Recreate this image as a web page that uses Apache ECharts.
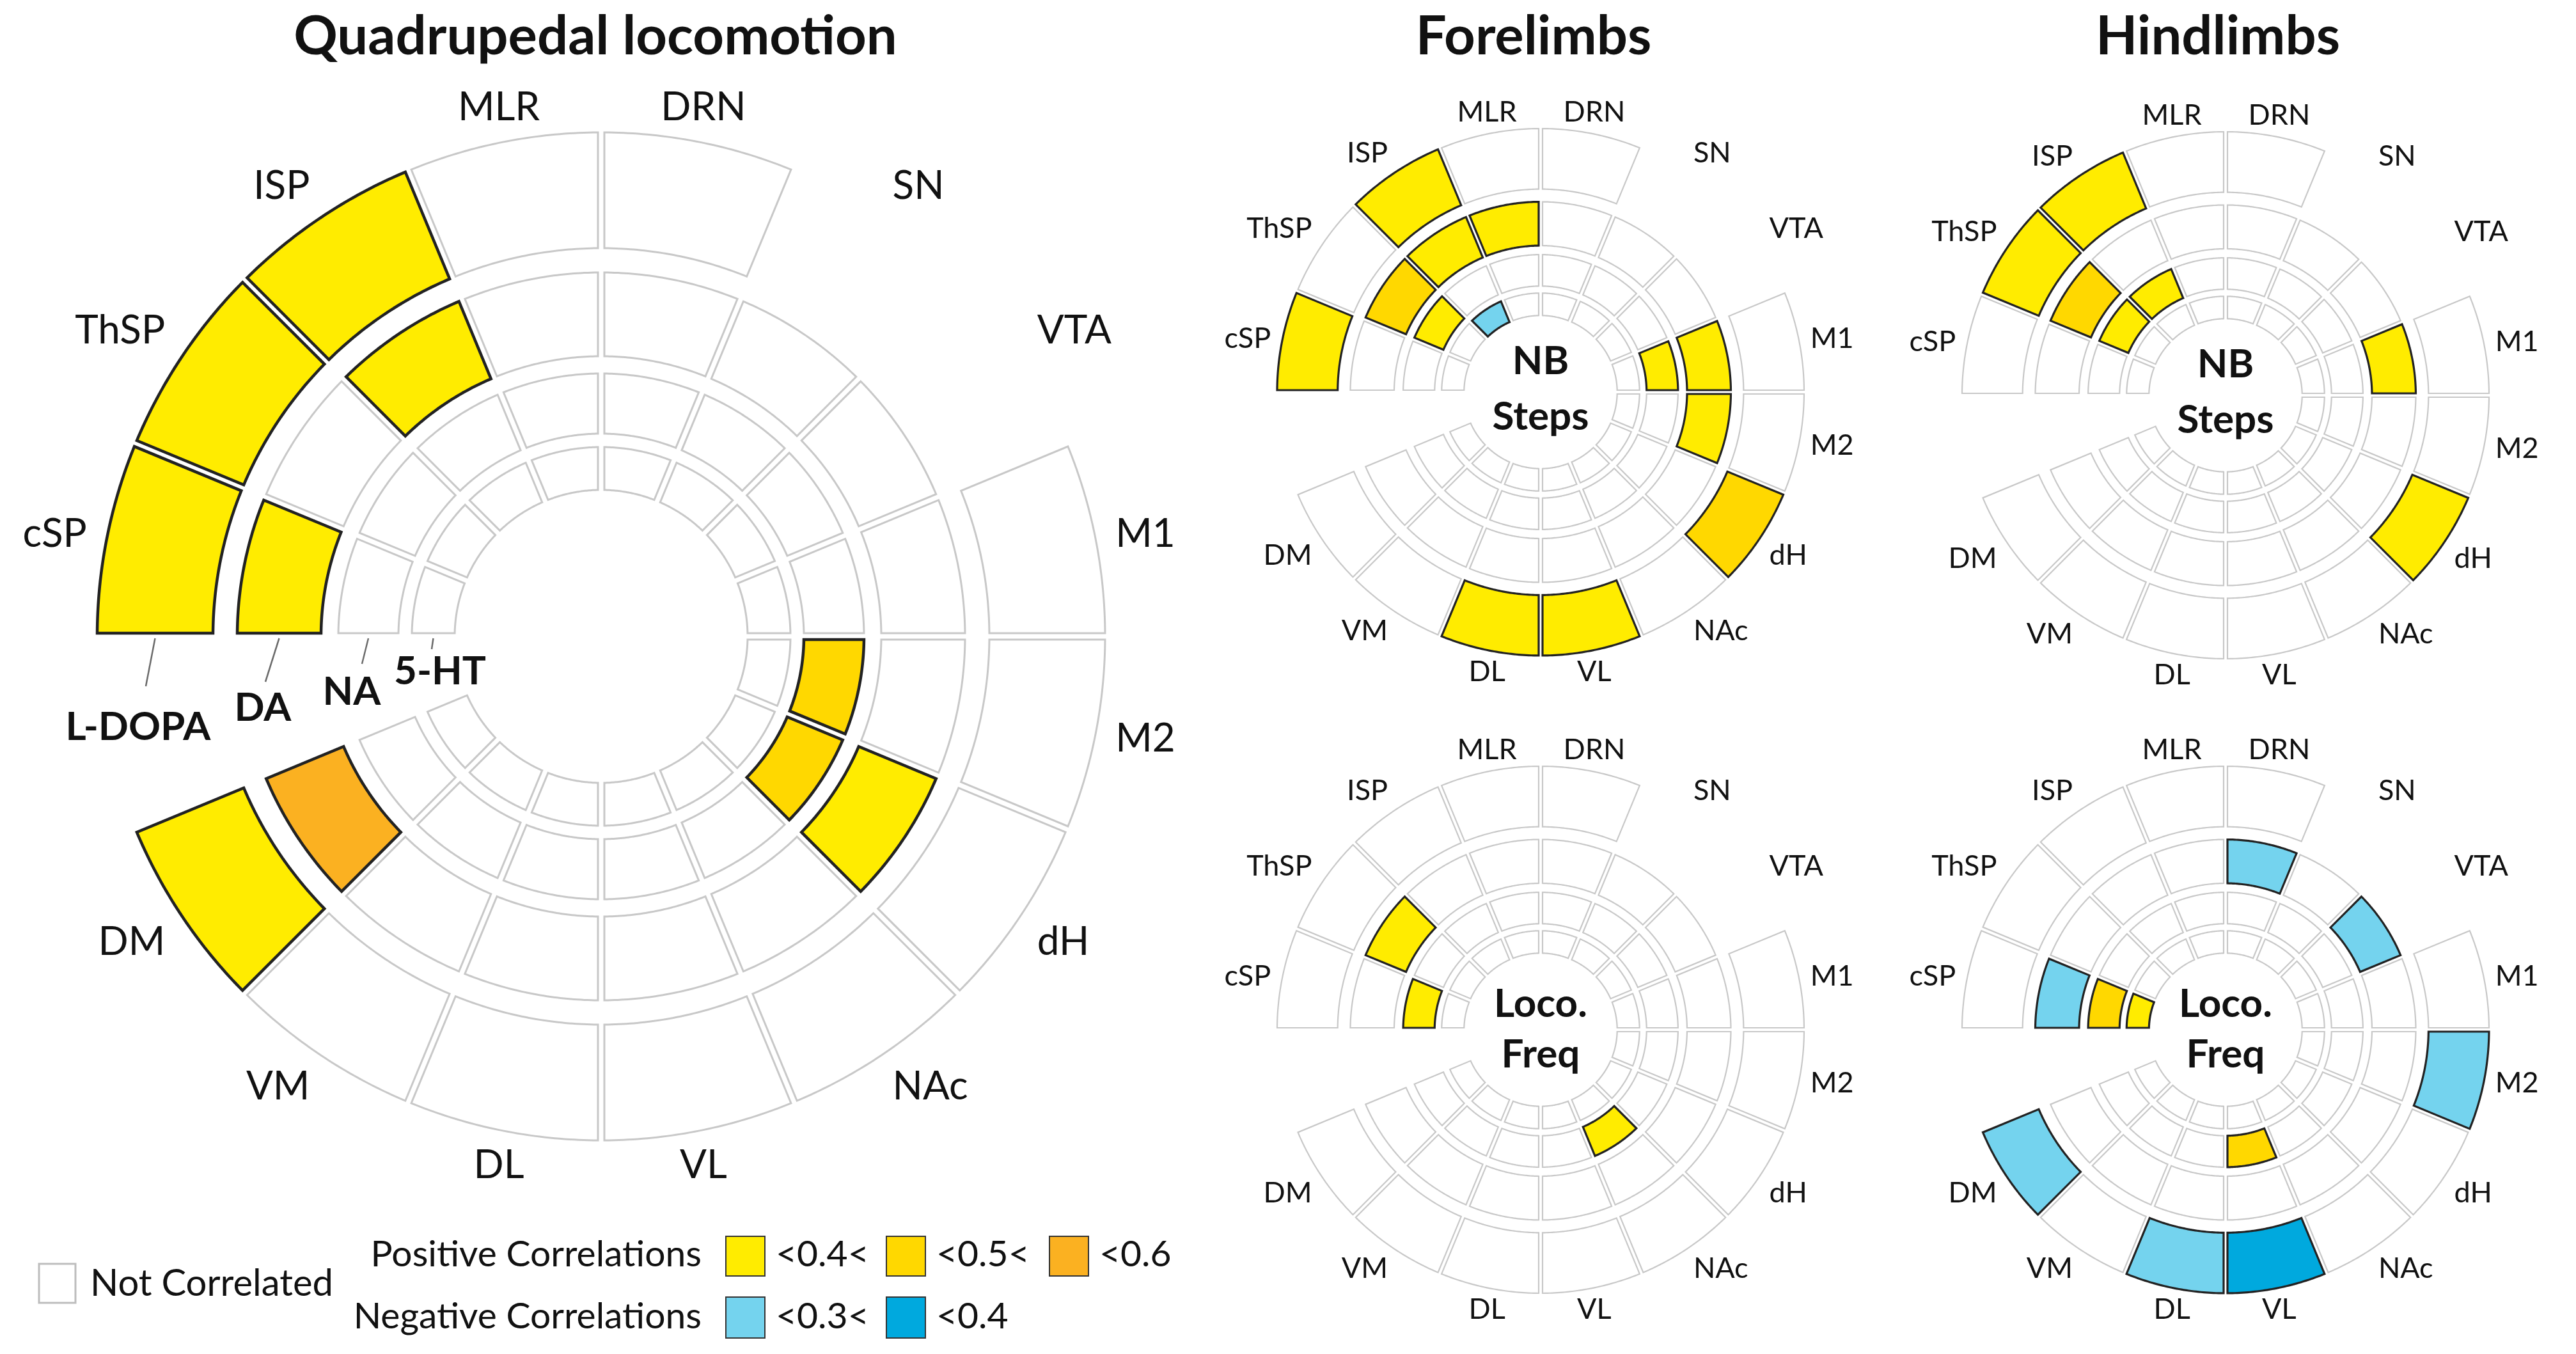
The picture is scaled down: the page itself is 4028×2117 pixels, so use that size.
<!DOCTYPE html>
<html><head><meta charset="utf-8">
<script src="https://cdn.jsdelivr.net/npm/echarts@6/dist/echarts.min.js"></script>
<style>html,body{margin:0;padding:0;background:#fff}#c{width:4028px;height:2117px}</style>
</head><body><div id="c"></div>
<script>
// ---------- DATA ----------
// angular sectors, clockwise from 12 o'clock ('' = empty gap sector)
const regions = ['DRN','SN','VTA','M1','M2','dH','NAc','VL','DL','VM','DM','','cSP','ThSP','ISP','MLR'];
// rings, inside -> outside, with their radial extent (axis units)
const ringNames = ['5-HT','NA','DA','L-DOPA'];
const ringInner = [229, 317, 438, 607];
const ringOuter = [296, 411, 569, 788];
const N = null; // no cell
// correlation class per region: 0 not correlated, 1 <0.4, 2 0.4-0.5, 3 0.5-0.6 (positive), -1 <0.3<, -2 <0.4 (negative)
const quadHT = [0,0,0,0,0,0,0,0,0,0,0,N,0,0,0,0];
const quadNA = [0,0,0,0,2,2,0,0,0,0,0,N,0,0,0,0];
const quadDA = [0,0,0,0,0,1,0,0,0,0,3,N,1,0,1,0];
const quadLD = [0,N,N,0,0,0,0,0,0,0,1,N,1,1,1,0];
const foreStepsHT = [0,0,0,0,0,0,0,0,0,0,0,N,0,0,-1,0];
const foreStepsNA = [0,0,0,1,0,0,0,0,0,0,0,N,0,1,0,0];
const foreStepsDA = [0,0,0,1,1,0,0,0,0,0,0,N,0,2,1,1];
const foreStepsLD = [0,N,N,0,0,2,0,1,1,0,0,N,1,0,1,0];
const hindStepsHT = [0,0,0,0,0,0,0,0,0,0,0,N,0,0,0,0];
const hindStepsNA = [0,0,0,0,0,0,0,0,0,0,0,N,0,1,1,0];
const hindStepsDA = [0,0,0,1,0,0,0,0,0,0,0,N,0,2,0,0];
const hindStepsLD = [0,N,N,0,0,1,0,0,0,0,0,N,0,1,1,0];
const foreFreqHT = [0,0,0,0,0,0,0,0,0,0,0,N,0,0,0,0];
const foreFreqNA = [0,0,0,0,0,0,1,0,0,0,0,N,1,0,0,0];
const foreFreqDA = [0,0,0,0,0,0,0,0,0,0,0,N,0,1,0,0];
const foreFreqLD = [0,N,N,0,0,0,0,0,0,0,0,N,0,0,0,0];
const hindFreqHT = [0,0,0,0,0,0,0,0,0,0,0,N,1,0,0,0];
const hindFreqNA = [0,0,0,0,0,0,0,2,0,0,0,N,2,0,0,0];
const hindFreqDA = [-1,0,-1,0,0,0,0,0,0,0,0,N,-1,0,0,0];
const hindFreqLD = [0,N,N,0,-1,0,0,-2,-1,0,-1,N,0,0,0,0];
const posLegend = ['<0.4<','<0.5<','<0.6'];
const negLegend = ['<0.3<','<0.4'];

// ---------- STYLE / LAYOUT ----------
const classColor = {'-2':'#00A9DE','-1':'#74D3EE','0':'#FFFFFF','1':'#FFEC00','2':'#FFD800','3':'#FBB121'};
const FONT = 'Lato, "Open Sans", sans-serif';
const charts = [
  {rings:[quadHT,quadNA,quadDA,quadLD], center:[940,995], radius:788, gap:10, gw:3, cw:4.5, lf:62, lg:32, title:'Quadrupedal locomotion', tx:931, ty:58},
  {rings:[foreStepsHT,foreStepsNA,foreStepsDA,foreStepsLD], center:[2409,613], radius:412, gap:6, gw:2.2, cw:3.2, lf:45, lg:18, title:'Forelimbs', tx:2398, ty:58, mid:['NB','Steps']},
  {rings:[hindStepsHT,hindStepsNA,hindStepsDA,hindStepsLD], center:[3480,618], radius:412, gap:6, gw:2.2, cw:3.2, lf:45, lg:18, title:'Hindlimbs', tx:3468, ty:58, mid:['NB','Steps']},
  {rings:[foreFreqHT,foreFreqNA,foreFreqDA,foreFreqLD], center:[2409,1610], radius:412, gap:6, gw:2.2, cw:3.2, lf:45, lg:18, mid:['Loco.','Freq']},
  {rings:[hindFreqHT,hindFreqNA,hindFreqDA,hindFreqLD], center:[3480,1610], radius:412, gap:6, gw:2.2, cw:3.2, lf:45, lg:18, mid:['Loco.','Freq']}
];

function buildCells(rings){
  const out = [];
  rings.forEach((arr, ri) => arr.forEach((cls, k) => {
    if (cls === null || regions[k] === '') return;
    out.push([k, ringInner[ri], ringOuter[ri], cls]);
  }));
  return out;
}

function makeRender(cfg){
  return function(params, api){
    const k = api.value(0), r0v = api.value(1), r1v = api.value(2), cls = api.value(3);
    const cs = params.coordSys, cx = cs.cx, cy = cs.cy;
    const pa = api.coord([r1v, k]), pb = api.coord([r1v, k + 1]), pi = api.coord([r0v, k]);
    const R1 = Math.hypot(pa[0]-cx, pa[1]-cy), R0 = Math.hypot(pi[0]-cx, pi[1]-cy);
    let a0 = Math.atan2(pa[1]-cy, pa[0]-cx), a1 = Math.atan2(pb[1]-cy, pb[0]-cx);
    if (a1 <= a0) a1 += 2*Math.PI;
    const g = cfg.gap/2, n = 40, pts = [];
    const o0 = a0 + Math.asin(g/R1), o1 = a1 - Math.asin(g/R1);
    for (let i = 0; i <= n; i++){ const t = o0 + (o1-o0)*i/n; pts.push([cx + R1*Math.cos(t), cy + R1*Math.sin(t)]); }
    const i0 = a0 + Math.asin(g/R0), i1 = a1 - Math.asin(g/R0);
    for (let i = n; i >= 0; i--){ const t = i0 + (i1-i0)*i/n; pts.push([cx + R0*Math.cos(t), cy + R0*Math.sin(t)]); }
    const colored = cls !== 0;
    return {type:'polygon', z2: colored ? 10 : 1, shape:{points:pts},
      style:{fill: classColor[String(cls)], stroke: colored ? '#222222' : '#C8C8C8', lineWidth: colored ? cfg.cw : cfg.gw, lineJoin:'miter'}};
  };
}

const mctx = document.createElement('canvas').getContext('2d');
function textW(t, font){ mctx.font = font; return mctx.measureText(t).width; }

const graphic = [];
function txt(x, y, text, size, weight, align){
  graphic.push({type:'text', x, y, silent:true, style:{text, fill:'#111', font: (weight||'normal') + ' ' + size + 'px ' + FONT, textAlign: align||'center', textVerticalAlign:'middle'}});
}

charts.forEach(c => {
  const [cx, cy] = c.center;
  regions.forEach((name, k) => {
    if (!name) return;
    const th = (k + 0.5) * Math.PI / 8;
    const s = Math.sin(th), co = -Math.cos(th);
    const w = textW(name, c.lf + 'px ' + FONT), h = c.lf * 0.72;
    const D = c.radius + c.lg;
    // label box touches the anchor point on its side facing the chart (like angle-axis labels)
    const dx = Math.abs(s) < 0.3 ? 0 : Math.sign(s) * w / 2;
    const dy = Math.abs(co) < 0.3 ? 0 : Math.sign(co) * h / 2;
    txt(cx + D*s + dx, cy + D*co + dy, name, c.lf);
  });
  if (c.title) txt(c.tx, c.ty, c.title, 85, 'bold');
  if (c.mid){
    const up = c.mid[0] === 'NB' ? 48 : 40;
    txt(cx, cy - up, c.mid[0], 62, 'bold'); txt(cx, cy + 39, c.mid[1], 62, 'bold');
  }
});

// ring labels of the large chart with leader lines
const big = charts[0];
const ringLabelPos = [[688,1050],[550,1082],[411,1107],[216,1137]];
const ringLeaderEnd = [[675,1015],[566,1038],[415,1066],[228,1073]];
ringNames.forEach((nm, i) => {
  const rm = (ringInner[i] + ringOuter[i]) / 2 * big.radius / 788;
  graphic.push({type:'line', silent:true, shape:{x1: big.center[0]-rm, y1: big.center[1]+3, x2: ringLeaderEnd[i][0], y2: ringLeaderEnd[i][1]}, style:{stroke:'#6a6a6a', lineWidth:2.5}});
  txt(ringLabelPos[i][0], ringLabelPos[i][1], nm, 62, 'bold');
});

// legend
graphic.push({type:'rect', shape:{x:61, y:1976, width:57, height:61}, style:{fill:'#fff', stroke:'#BDBDBD', lineWidth:3}});
txt(141, 2007, 'Not Correlated', 58, 'normal', 'left');
txt(1097, 1962, 'Positive Correlations', 57, 'normal', 'right');
txt(1097, 2059, 'Negative Correlations', 57, 'normal', 'right');
const posX = [1135, 1386, 1641], posCls = [1,2,3];
posLegend.forEach((t, i) => {
  graphic.push({type:'rect', shape:{x:posX[i], y:1933, width:61, height:62}, style:{fill:classColor[posCls[i]], stroke:'#333', lineWidth:2}});
  txt(posX[i] + 78, 1962, t, 57, 'normal', 'left');
});
const negCls = [-1,-2];
negLegend.forEach((t, i) => {
  graphic.push({type:'rect', shape:{x:posX[i], y:2028, width:61, height:64}, style:{fill:classColor[negCls[i]], stroke:'#333', lineWidth:2}});
  txt(posX[i] + 78, 2059, t, 57, 'normal', 'left');
});

const option = {
  animation:false,
  backgroundColor:'#ffffff',
  polar: charts.map(c => ({center:c.center, radius:c.radius})),
  angleAxis: charts.map((c,i) => ({polarIndex:i, type:'value', min:0, max:16, startAngle:90, clockwise:true, show:false})),
  radiusAxis: charts.map((c,i) => ({polarIndex:i, type:'value', min:0, max:788, show:false})),
  series: charts.map((c,i) => ({type:'custom', coordinateSystem:'polar', polarIndex:i,
    dimensions:['sector','r0','r1','cls'], encode:{angle:0, radius:2},
    renderItem: makeRender(c), data: buildCells(c.rings)})),
  graphic: graphic
};
const chart = echarts.init(document.getElementById('c'), null, {renderer:'canvas'});
chart.setOption(option);
</script></body></html>
